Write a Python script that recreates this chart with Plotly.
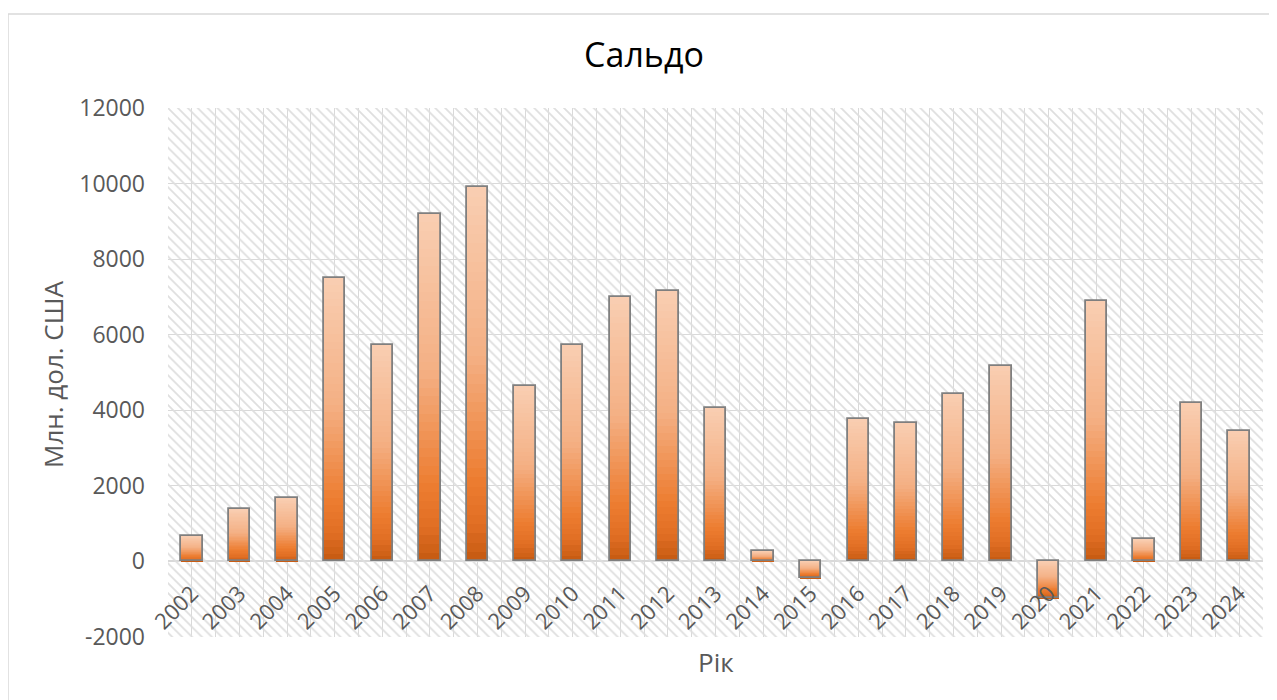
import plotly.graph_objects as go

# ---- data ----
years = [2002, 2003, 2004, 2005, 2006, 2007, 2008, 2009, 2010, 2011, 2012,
         2013, 2014, 2015, 2016, 2017, 2018, 2019, 2020, 2021, 2022, 2023, 2024]
year_labels = [str(y) for y in years]
saldo = [680, 1395, 1690, 7510, 5730, 9200, 9900, 4630, 5730, 7000, 7160,
         4060, 285, -440, 3780, 3670, 4440, 5180, -970, 6880, 595, 4180, 3460]
y_ticks = [-2000, 0, 2000, 4000, 6000, 8000, 10000, 12000]
y_tick_labels = ["-2000", "0", "2000", "4000", "6000", "8000", "10000", "12000"]

title_text = "Сальдо"
x_title = "Рік"
y_title = "Млн. дол. США"

# ---- style ----
OFF = 8  # page body margin in the browser
Y_MIN, Y_MAX = -2000, 12000
W, H = 1277 - OFF, 700 - OFF
# target page coordinates of the plot area
PL, PR, PT, PB = 168, 1263, 108, 637
ML, MR, MT, MB = PL - OFF, W - (PR - OFF), PT - OFF, H - (PB - OFF)
FONT = "Open Sans"
GRID = "#D9D9D9"
TXT = "#595959"
BAR_W = 0.45
N_SEG = 40
stops = [(0.0, (249, 206, 178)), (0.45, (244, 176, 132)), (0.78, (237, 125, 49)),
         (0.9, (225, 110, 36)), (1.0, (197, 90, 17))]


def grad(t):
    for (t0, c0), (t1, c1) in zip(stops[:-1], stops[1:]):
        if t <= t1:
            f = (t - t0) / (t1 - t0) if t1 > t0 else 0
            c = [round(a + (b - a) * f) for a, b in zip(c0, c1)]
            return f"rgb({c[0]},{c[1]},{c[2]})"
    c = stops[-1][1]
    return f"rgb({c[0]},{c[1]},{c[2]})"


plot_w = W - ML - MR
plot_h = H - MT - MB


def px_x(page_x):
    return (page_x - PL) / plot_w


def px_y(page_y):
    return (PB - page_y) / plot_h


fig = go.Figure()

# hatched plot-area background spanning the full axis range
fig.add_bar(
    x=[(years[0] + years[-1]) / 2], y=[Y_MAX - Y_MIN], base=[Y_MIN], width=[len(years)],
    marker=dict(color="#DEDEDE", line_width=0,
                pattern=dict(shape="\\", fillmode="replace", size=7, solidity=0.25)),
    hoverinfo="skip", showlegend=False,
)

# gradient-filled bars (each bar rendered as vertical colour slices)
for k in range(N_SEG):
    bases, heights, colors = [], [], []
    for v in saldo:
        bases.append(v * k / N_SEG)
        heights.append(v / N_SEG)
        t = 1 - (k + 0.5) / N_SEG if v >= 0 else (k + 0.5) / N_SEG
        colors.append(grad(t))
    fig.add_bar(x=years, y=heights, base=bases, width=BAR_W,
                marker=dict(color=colors, line_width=0), opacity=1,
                hoverinfo="skip", showlegend=False)

# outlines
fig.add_bar(x=years, y=saldo, width=BAR_W,
            marker=dict(color="rgba(0,0,0,0)", line=dict(color="#7F7F7F", width=1.8)),
            opacity=1, showlegend=False, name=title_text)

fig.update_layout(
    width=W, height=H, barmode="overlay",
    margin=dict(l=ML, r=MR, t=MT, b=MB),
    paper_bgcolor="white", plot_bgcolor="white",
    font=dict(family=FONT, color=TXT),
    title=dict(text=title_text, x=(644 - OFF) / W, xref="container", xanchor="center",
               y=1 - (55 - OFF) / H, yref="container", yanchor="middle",
               font=dict(family=FONT, size=34, color="#000000")),
    bargap=0,
)

fig.update_xaxes(
    type="linear", range=[years[0] - 0.5, years[-1] + 0.5],
    tickmode="array", tickvals=years, ticktext=year_labels, tickangle=-45,
    tickfont=dict(size=22, color=TXT), ticklabelstandoff=14,
    showgrid=True, gridcolor=GRID, gridwidth=1.3,
    minor=dict(tick0=years[0] - 0.5, dtick=1, showgrid=True, gridcolor=GRID, gridwidth=1.3),
    anchor="free", position=(0 - Y_MIN) / (Y_MAX - Y_MIN),
    showline=False, zeroline=False, ticks="",
)
fig.update_yaxes(
    range=[Y_MIN, Y_MAX], tickmode="array", tickvals=y_ticks, ticktext=y_tick_labels,
    tickfont=dict(size=23, color=TXT), ticklabelstandoff=22,
    showgrid=True, gridcolor=GRID, gridwidth=1.3,
    zeroline=True, zerolinecolor=GRID, zerolinewidth=2,
    showline=False, ticks="",
)

fig.add_annotation(text=x_title, xref="paper", yref="paper", x=0.5,
                   y=px_y(662), xanchor="center", yanchor="middle",
                   showarrow=False, font=dict(family=FONT, size=26, color=TXT))
fig.add_annotation(text=y_title, xref="paper", yref="paper", x=px_x(53),
                   y=px_y(374), xanchor="center", yanchor="middle",
                   textangle=-90, showarrow=False,
                   font=dict(family=FONT, size=26, color=TXT))

# chart-area border
fig.add_shape(type="rect", xref="paper", yref="paper",
              x0=px_x(8), x1=px_x(1300),
              y0=px_y(720), y1=px_y(14),
              line=dict(color=GRID, width=1.5), layer="below")

fig.write_html("out.html")
